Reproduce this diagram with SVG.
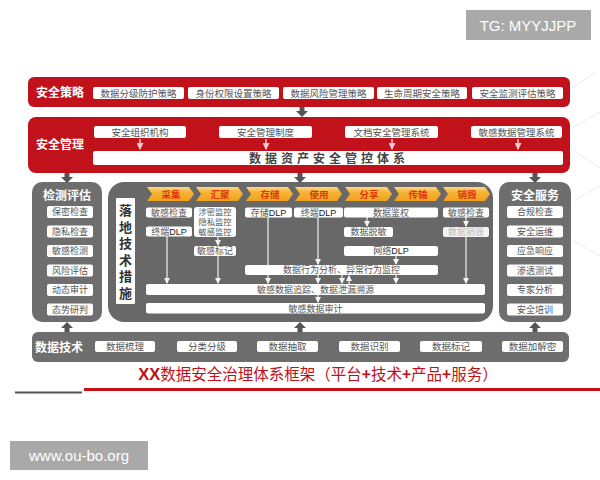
<svg xmlns="http://www.w3.org/2000/svg" width="600" height="480" viewBox="0 0 600 480">
<defs>
<linearGradient id="chev" x1="0" y1="0" x2="0" y2="1">
<stop offset="0" stop-color="#fcd98e"/>
<stop offset="0.35" stop-color="#f7b437"/>
<stop offset="1" stop-color="#f0a21e"/>
</linearGradient>
<marker id="wa" markerUnits="userSpaceOnUse" markerWidth="6" markerHeight="6" refX="5" refY="3" orient="auto">
<path d="M0,0 L6,3 L0,6 Z" fill="#f2f2f2"/>
</marker>
<marker id="pa" markerUnits="userSpaceOnUse" markerWidth="7" markerHeight="7" refX="6" refY="3.5" orient="auto">
<path d="M0,0 L7,3.5 L0,7 Z" fill="#f7c9c9"/>
</marker>
<path id="dn" d="M-2.5,0 L2.5,0 L2.5,4 L6,4 L0,10 L-6,4 L-2.5,4 Z" fill="#555"/>
<path id="up" d="M-2.5,10 L2.5,10 L2.5,6 L6,6 L0,0 L-6,6 L-2.5,6 Z" fill="#555"/>
</defs>
<style>
.red{fill:#c1121b}
.gray{fill:#6e6e6e}
.wb{fill:#fff}
.lbl{font-family:"Noto Sans CJK SC","Noto Sans",sans-serif;font-weight:bold;fill:#fff;font-size:12px;text-anchor:middle}
.t{font-family:"Noto Sans CJK SC","Noto Sans",sans-serif;fill:#555;font-size:9.5px;text-anchor:middle}
.t9{font-family:"Noto Sans CJK SC","Noto Sans",sans-serif;fill:#555;font-size:9px;text-anchor:middle}
.t8{font-family:"Noto Sans CJK SC","Noto Sans",sans-serif;fill:#555;font-size:8.2px;text-anchor:middle}
.dlp{font-family:"Liberation Sans",Arial,sans-serif;fill:#222}
.stg{font-family:"Noto Sans CJK SC","Noto Sans",sans-serif;font-weight:bold;fill:#e0340c;font-size:9.5px;text-anchor:middle}
.wl{stroke:#f2f2f2;stroke-width:1.2;fill:none;marker-end:url(#wa)}
.pl{stroke:#f7c9c9;stroke-width:1.5;fill:none;marker-end:url(#pa)}
.vt{font-family:"Noto Sans CJK SC","Noto Sans",sans-serif;font-weight:bold;fill:#333;font-size:13px;text-anchor:middle}
.wm{font-family:"Liberation Sans",Arial,sans-serif;fill:#fff;font-size:15px}
.deco{stroke:#ececec;stroke-width:1;fill:none}
</style>
<rect width="600" height="480" fill="#fff"/>
<g id="decor">
<path class="deco" d="M572,88 L596,72 M572,128 L600,112 M572,150 L600,168 M575,200 L600,186 M572,240 L600,256"/>
</g>
<g id="watermark-tg">
<rect x="466" y="10" width="125" height="30" fill="#a9a9a9"/>
<text class="wm" x="528" y="30.5" text-anchor="middle">TG: MYYJJPP</text>
</g>
<g id="watermark-url">
<rect x="10" y="441" width="138" height="29" fill="#a9a9a9"/>
<text class="wm" x="79" y="461" text-anchor="middle">www.ou-bo.org</text>
</g>

<g id="strategy">
<rect class="red" x="28" y="77" width="542" height="30" rx="6"/>
<text class="lbl" x="60" y="96.5">安全策略</text>
<rect class="wb" x="93" y="87" width="91" height="12" rx="2"/>
<text class="t" x="138.5" y="96.5">数据分级防护策略</text>
<rect class="wb" x="188" y="87" width="91" height="12" rx="2"/>
<text class="t" x="233.5" y="96.5">身份权限设置策略</text>
<rect class="wb" x="283" y="87" width="91" height="12" rx="2"/>
<text class="t" x="328.5" y="96.5">数据风险管理策略</text>
<rect class="wb" x="377" y="87" width="90" height="12" rx="2"/>
<text class="t" x="422" y="96.5">生命周期安全策略</text>
<rect class="wb" x="472" y="87" width="91" height="12" rx="2"/>
<text class="t" x="517.5" y="96.5">安全监测评估策略</text>
</g>

<g id="management">
<rect class="red" x="28" y="117" width="542" height="56" rx="8"/>
<text class="lbl" x="60" y="149">安全管理</text>
<rect class="wb" x="94" y="126" width="92" height="12" rx="2"/>
<text class="t" x="140" y="135.5">安全组织机构</text>
<rect class="wb" x="219" y="126" width="93" height="12" rx="2"/>
<text class="t" x="265.5" y="135.5">安全管理制度</text>
<rect class="wb" x="345" y="126" width="93" height="12" rx="2"/>
<text class="t" x="391.5" y="135.5">文档安全管理系统</text>
<rect class="wb" x="471" y="126" width="91" height="12" rx="2"/>
<text class="t" x="516.5" y="135.5">敏感数据管理系统</text>
<rect class="wb" x="93" y="151" width="470" height="14" rx="2"/>
<text x="329" y="162.5" text-anchor="middle" font-family="Noto Sans CJK SC, Noto Sans, sans-serif" font-size="12" font-weight="bold" fill="#444" letter-spacing="4">数据资产安全管控体系</text>
</g>

<g id="detect">
<rect class="gray" x="32" y="182" width="70" height="140" rx="10"/>
<text class="lbl" x="67" y="200">检测评估</text>
<rect class="wb" x="47" y="206" width="46" height="12" rx="2"/><text class="t9" x="70" y="215.3">保密检查</text>
<rect class="wb" x="47" y="225.5" width="46" height="12" rx="2"/><text class="t9" x="70" y="234.8">隐私检查</text>
<rect class="wb" x="47" y="245" width="46" height="12" rx="2"/><text class="t9" x="70" y="254.3">敏感检测</text>
<rect class="wb" x="47" y="264.5" width="46" height="12" rx="2"/><text class="t9" x="70" y="273.8">风险评估</text>
<rect class="wb" x="47" y="284" width="46" height="12" rx="2"/><text class="t9" x="70" y="293.3">动态审计</text>
<rect class="wb" x="47" y="303.5" width="46" height="12" rx="2"/><text class="t9" x="70" y="312.8">态势研判</text>
</g>

<g id="service">
<rect class="gray" x="499" y="182" width="72" height="140" rx="10"/>
<text class="lbl" x="535" y="200">安全服务</text>
<rect class="wb" x="507" y="206" width="56" height="12" rx="2"/><text class="t9" x="535" y="215.3">合规检查</text>
<rect class="wb" x="507" y="225.5" width="56" height="12" rx="2"/><text class="t9" x="535" y="234.8">安全运维</text>
<rect class="wb" x="507" y="245" width="56" height="12" rx="2"/><text class="t9" x="535" y="254.3">应急响应</text>
<rect class="wb" x="507" y="264.5" width="56" height="12" rx="2"/><text class="t9" x="535" y="273.8">渗透测试</text>
<rect class="wb" x="507" y="284" width="56" height="12" rx="2"/><text class="t9" x="535" y="293.3">专家分析</text>
<rect class="wb" x="507" y="303.5" width="56" height="12" rx="2"/><text class="t9" x="535" y="312.8">安全培训</text>
</g>

<g id="tech-measures">
<rect x="108" y="182" width="385" height="140" rx="16" fill="#686868"/>
<rect class="wb" x="116" y="198" width="19" height="106" rx="1"/>
<text class="vt" x="125.5" y="215">落</text>
<text class="vt" x="125.5" y="231.5">地</text>
<text class="vt" x="125.5" y="248">技</text>
<text class="vt" x="125.5" y="264.5">术</text>
<text class="vt" x="125.5" y="281">措</text>
<text class="vt" x="125.5" y="297.5">施</text>
</g>

<g id="stages">
<path d="M147,187 L189,187 L194,194 L189,201 L147,201 L152,194 Z" fill="url(#chev)"/>
<text class="stg" x="171" y="197.5">采集</text>
<path d="M196,187 L238,187 L243,194 L238,201 L196,201 L201,194 Z" fill="url(#chev)"/>
<text class="stg" x="220" y="197.5">汇聚</text>
<path d="M246,187 L288,187 L293,194 L288,201 L246,201 L251,194 Z" fill="url(#chev)"/>
<text class="stg" x="270" y="197.5">存储</text>
<path d="M295,187 L337,187 L342,194 L337,201 L295,201 L300,194 Z" fill="url(#chev)"/>
<text class="stg" x="319" y="197.5">使用</text>
<path d="M345,187 L387,187 L392,194 L387,201 L345,201 L350,194 Z" fill="url(#chev)"/>
<text class="stg" x="369" y="197.5">分享</text>
<path d="M394,187 L436,187 L441,194 L436,201 L394,201 L399,194 Z" fill="url(#chev)"/>
<text class="stg" x="418" y="197.5">传输</text>
<path d="M443,187 L485,187 L490,194 L485,201 L443,201 L448,194 Z" fill="url(#chev)"/>
<text class="stg" x="467" y="197.5">销毁</text>
</g>

<g id="connectors">
<path class="pl" d="M140,139 L140,149"/>
<path class="pl" d="M266,139 L266,149"/>
<path class="pl" d="M392,139 L392,149"/>
<path class="pl" d="M518,139 L518,149"/>
<use href="#dn" x="302" y="107"/>
<use href="#dn" x="67" y="173"/>
<use href="#dn" x="300" y="173"/>
<use href="#dn" x="535" y="173"/>
<use href="#up" x="67" y="322"/>
<use href="#up" x="300" y="322"/>
<use href="#up" x="535" y="322"/>
<path class="wl" d="M167,236 L167,283"/>
<path class="wl" d="M218,237 L218,245"/>
<path class="wl" d="M218,256 L218,283"/>
<path class="wl" d="M268,217 L268,283"/>
<path class="wl" d="M318,217 L318,264"/>
<path class="wl" d="M318,275 L318,283"/>
<path class="wl" d="M318,295 L318,302"/>
<path class="wl" d="M367,217 L367,226"/>
<path class="wl" d="M342,275 L342,283"/>
<path class="wl" d="M349,284 L349,276"/>
<path class="wl" d="M396,256 L396,264"/>
<path class="wl" d="M396,275 L396,283"/>
<path class="wl" d="M466,217 L466,226"/>
<path class="wl" d="M466,237 L466,283"/>
</g>

<g id="stage-boxes">
<rect class="wb" x="146" y="207.5" width="46" height="10" rx="2"/><text class="t9" x="169" y="215.7">敏感检查</text>
<rect class="wb" x="146" y="226.5" width="46" height="10" rx="2"/><text class="t9" x="169" y="234.7">终端<tspan class="dlp">DLP</tspan></text>
<rect class="wb" x="194" y="207" width="42" height="30" rx="3"/>
<text class="t8" x="215" y="215">涉密监控</text>
<text class="t8" x="215" y="225">隐私监控</text>
<text class="t8" x="215" y="235">敏感监控</text>
<rect class="wb" x="194" y="246" width="42" height="10" rx="2"/><text class="t9" x="215" y="254.2">敏感标记</text>
<rect class="wb" x="245" y="207.5" width="47" height="10" rx="2"/><text class="t9" x="268.5" y="215.7">存储<tspan class="dlp">DLP</tspan></text>
<rect class="wb" x="294" y="207.5" width="49" height="10" rx="2"/><text class="t9" x="318.5" y="215.7">终端<tspan class="dlp">DLP</tspan></text>
<rect class="wb" x="344" y="207.5" width="94" height="10" rx="2"/><text class="t9" x="391" y="215.7">数据鉴权</text>
<rect class="wb" x="344" y="227" width="49" height="10" rx="2"/><text class="t9" x="368.5" y="235.2">数据脱敏</text>
<rect class="wb" x="344" y="246" width="94" height="10" rx="2"/><text class="t9" x="391" y="254.2">网络<tspan class="dlp">DLP</tspan></text>
<rect class="wb" x="443" y="207.5" width="46" height="10" rx="2"/><text class="t9" x="466" y="215.7">敏感检查</text>
<rect x="443" y="227" width="46" height="10" rx="2" fill="#f4f4f4"/><text class="t9" x="466" y="235.2" style="fill:#bbb">数据销毁</text>
<rect class="wb" x="245" y="265" width="193" height="10" rx="2"/><text class="t9" x="341.5" y="273.2">数据行为分析、异常行为监控</text>
<rect class="wb" x="146" y="284" width="339" height="11" rx="2"/><text class="t9" x="315.5" y="292.7">敏感数据追踪、数据泄漏溯源</text>
<rect class="wb" x="146" y="303" width="339" height="10.5" rx="2"/><text class="t9" x="315.5" y="311.5">敏感数据审计</text>
</g>

<g id="data-tech">
<rect class="gray" x="32" y="332" width="537" height="30" rx="6"/>
<text class="lbl" x="59" y="351.5">数据技术</text>
<rect class="wb" x="95" y="341" width="60" height="11" rx="2"/><text class="t" x="125" y="349.8">数据梳理</text>
<rect class="wb" x="177" y="341" width="60" height="11" rx="2"/><text class="t" x="207" y="349.8">分类分级</text>
<rect class="wb" x="257" y="341" width="61" height="11" rx="2"/><text class="t" x="287.5" y="349.8">数据抽取</text>
<rect class="wb" x="339" y="341" width="61" height="11" rx="2"/><text class="t" x="369.5" y="349.8">数据识别</text>
<rect class="wb" x="420" y="341" width="62" height="11" rx="2"/><text class="t" x="451" y="349.8">数据标记</text>
<rect class="wb" x="502" y="341" width="61" height="11" rx="2"/><text class="t" x="532.5" y="349.8">数据加解密</text>
</g>

<g id="title">
<text x="318" y="380" text-anchor="middle" font-family="Noto Sans CJK SC, Noto Sans, sans-serif" font-size="15.5" fill="#c0101a"><tspan font-family="Liberation Sans, Arial, sans-serif" font-weight="bold" font-size="16.5">XX</tspan>数据安全治理体系框架（平台<tspan font-weight="bold">+</tspan>技术<tspan font-weight="bold">+</tspan>产品<tspan font-weight="bold">+</tspan>服务）</text>
<line x1="15" y1="392.5" x2="82" y2="392.5" stroke="#555" stroke-width="2"/>
<line x1="84" y1="389.5" x2="600" y2="389.5" stroke="#c8101a" stroke-width="3"/>
</g>
</svg>
